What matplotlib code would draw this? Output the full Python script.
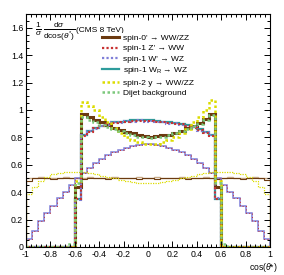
import numpy as np
import matplotlib
matplotlib.use("Agg")
import matplotlib.pyplot as plt
from matplotlib.lines import Line2D
from matplotlib.ticker import MultipleLocator, FuncFormatter

plt.rcParams['font.family'] = ['Liberation Sans', 'DejaVu Sans']
plt.rcParams['mathtext.fontset'] = 'custom'
plt.rcParams['mathtext.rm'] = 'Liberation Sans'
plt.rcParams['mathtext.it'] = 'Liberation Sans:italic'

# ---- data (40 bins over cos(theta*) in [-1, 1]) ----
bin_lo, bin_hi, n_bins = -1.0, 1.0, 40

spin0_cut = [0, 0, 0, 0, 0, 0, 0, 0, 0.44, 0.97,
             0.95, 0.93, 0.91, 0.89, 0.87, 0.855, 0.84, 0.83, 0.82, 0.81,
             0.80, 0.81, 0.815, 0.82, 0.83, 0.845, 0.865, 0.885, 0.905, 0.935,
             0.97, 0.44, 0, 0, 0, 0, 0, 0, 0, 0]
zprime_cut = [0, 0, 0, 0, 0, 0, 0, 0, 0.35, 0.81,
              0.84, 0.865, 0.88, 0.895, 0.905, 0.91, 0.915, 0.92, 0.92, 0.92,
              0.92, 0.915, 0.91, 0.905, 0.90, 0.895, 0.885, 0.87, 0.855, 0.835,
              0.81, 0.35, 0, 0, 0, 0, 0, 0, 0, 0]
wprime_cut = [0, 0, 0, 0, 0, 0, 0, 0, 0.34, 0.815,
              0.845, 0.86, 0.885, 0.89, 0.91, 0.905, 0.92, 0.915, 0.925, 0.915,
              0.92, 0.91, 0.915, 0.90, 0.905, 0.89, 0.88, 0.875, 0.85, 0.84,
              0.815, 0.36, 0, 0, 0, 0, 0, 0, 0, 0]
wr_cut = [0, 0, 0, 0, 0, 0, 0, 0, 0.35, 0.82,
          0.845, 0.87, 0.885, 0.90, 0.91, 0.915, 0.92, 0.925, 0.925, 0.925,
          0.925, 0.92, 0.915, 0.91, 0.905, 0.90, 0.89, 0.875, 0.86, 0.84,
          0.815, 0.35, 0, 0, 0, 0, 0, 0, 0, 0]
spin2_cut = [0, 0, 0, 0, 0, 0, 0, 0, 0.48, 1.06,
             1.03, 1.00, 0.95, 0.91, 0.87, 0.83, 0.80, 0.78, 0.765, 0.755,
             0.75, 0.755, 0.765, 0.78, 0.80, 0.83, 0.86, 0.91, 0.95, 1.00,
             1.07, 0.48, 0, 0, 0, 0, 0, 0, 0, 0]
dijet_cut = [0, 0, 0, 0, 0, 0, 0, 0.02, 0.47, 0.95,
             0.93, 0.91, 0.89, 0.875, 0.86, 0.845, 0.83, 0.815, 0.805, 0.80,
             0.795, 0.80, 0.805, 0.815, 0.83, 0.845, 0.86, 0.88, 0.90, 0.93,
             0.96, 0.47, 0.02, 0, 0, 0, 0, 0, 0, 0]

spin0_nocut = [0.485, 0.50, 0.505, 0.50, 0.495, 0.50, 0.505, 0.50, 0.50, 0.495,
               0.50, 0.505, 0.50, 0.495, 0.50, 0.50, 0.505, 0.50, 0.495, 0.50,
               0.50, 0.495, 0.50, 0.505, 0.50, 0.50, 0.495, 0.50, 0.505, 0.50,
               0.50, 0.495, 0.50, 0.505, 0.50, 0.495, 0.50, 0.505, 0.50, 0.49]
tan_nocut = [0.50, 0.505, 0.51, 0.505, 0.50, 0.505, 0.51, 0.505, 0.50, 0.505,
             0.51, 0.505, 0.50, 0.505, 0.51, 0.505, 0.50, 0.505, 0.51, 0.505,
             0.505, 0.51, 0.505, 0.50, 0.505, 0.51, 0.505, 0.50, 0.505, 0.51,
             0.505, 0.50, 0.505, 0.51, 0.505, 0.50, 0.505, 0.51, 0.505, 0.50]
spin1_nocut = [0.055, 0.12, 0.19, 0.245, 0.30, 0.355, 0.40, 0.45, 0.50, 0.54,
               0.58, 0.615, 0.645, 0.67, 0.69, 0.71, 0.725, 0.735, 0.745, 0.75,
               0.75, 0.745, 0.735, 0.725, 0.71, 0.69, 0.67, 0.645, 0.615, 0.58,
               0.54, 0.50, 0.45, 0.40, 0.355, 0.30, 0.245, 0.19, 0.12, 0.055]
spin2_nocut = [0.39, 0.44, 0.48, 0.51, 0.53, 0.54, 0.55, 0.55, 0.55, 0.545,
               0.54, 0.53, 0.52, 0.51, 0.50, 0.49, 0.48, 0.475, 0.47, 0.465,
               0.465, 0.47, 0.475, 0.48, 0.49, 0.50, 0.51, 0.52, 0.53, 0.54,
               0.545, 0.55, 0.55, 0.55, 0.54, 0.53, 0.51, 0.48, 0.44, 0.39]

labels = ["spin-0' \u2192 WW/ZZ", "spin-1 Z' \u2192 WW", "spin-1 W' \u2192 WZ",
          "spin-1 W$_{\\mathrm{R}}$ \u2192 WZ", "spin-2 y \u2192 WW/ZZ", "Dijet background"]

edges = np.linspace(bin_lo, bin_hi, n_bins + 1)

C_BROWN = '#6B3A10'
C_RED = '#C83232'
C_BLUE = '#7F7FD8'
C_TEAL = '#2E9C9C'
C_YEL = '#DCDC00'
C_GREEN = '#7CC87C'
C_TAN = '#C8AA88'

DOT = (0, (1.0, 1.0))
DOT2 = (1, (1.0, 1.0))

fig = plt.figure(figsize=(2.84, 2.75), dpi=100)
ax = fig.add_axes([26/284, 1-247/275, 244/284, 233/275])

# thin (no cut) distributions
ax.stairs(tan_nocut, edges, color=C_TAN, lw=1.0)
ax.stairs(spin0_nocut, edges, color=C_BROWN, lw=0.8)
ax.stairs(spin1_nocut, edges, color=C_BLUE, lw=1.1)
ax.stairs(spin1_nocut, edges, color=C_RED, lw=0.7, ls=(0, (1.0, 2.5)))
ax.stairs(spin2_nocut, edges, color=C_YEL, lw=0.9, ls=DOT)

# thick (with cut) distributions
ax.stairs(wr_cut, edges, color=C_TEAL, lw=1.6)
ax.stairs(spin0_cut, edges, color=C_BROWN, lw=2.2)
ax.stairs(wprime_cut, edges, color=C_BLUE, lw=1.5, ls=DOT)
ax.stairs(zprime_cut, edges, color=C_RED, lw=1.5, ls=DOT2)
ax.stairs(spin2_cut, edges, color=C_YEL, lw=1.8, ls=DOT)
ax.stairs(dijet_cut, edges, color=C_GREEN, lw=1.8, ls=DOT)

ax.set_xlim(-1, 1)
ax.set_ylim(0, 1.7)


def fmt(v, pos):
    v = round(v, 2)
    if v == 0:
        return '0'
    return f'{v:g}'


ax.xaxis.set_major_locator(MultipleLocator(0.2))
ax.xaxis.set_minor_locator(MultipleLocator(0.04))
ax.yaxis.set_major_locator(MultipleLocator(0.2))
ax.yaxis.set_minor_locator(MultipleLocator(0.05))
ax.xaxis.set_major_formatter(FuncFormatter(fmt))
ax.yaxis.set_major_formatter(FuncFormatter(fmt))
ax.tick_params(which='both', direction='in', top=True, right=True,
               labelsize=6.3, width=0.7, pad=2)
ax.tick_params(which='major', length=4.5)
ax.tick_params(which='minor', length=2.5)
for s in ax.spines.values():
    s.set_linewidth(0.8)

ax.text(1.03, -0.06, r'cos($\theta$*)', transform=ax.transAxes,
        ha='right', va='top', fontsize=6.2)
ax.text(0.035, 0.925,
        r'$\frac{1}{\sigma}\,\frac{\mathrm{d}\sigma}{\mathrm{dcos}(\theta^{*})}$',
        transform=ax.transAxes, ha='left', va='center', fontsize=8.5)
ax.text(0.205, 0.928, '(CMS 8 TeV)',
        transform=ax.transAxes, ha='left', va='center', fontsize=6.0)

handles = [
    Line2D([], [], color=C_BROWN, lw=2.2),
    Line2D([], [], color=C_RED, lw=1.6, ls=DOT),
    Line2D([], [], color=C_BLUE, lw=1.6, ls=DOT),
    Line2D([], [], color=C_TEAL, lw=1.6),
    Line2D([], [], color=C_YEL, lw=1.8, ls=DOT),
    Line2D([], [], color=C_GREEN, lw=1.8, ls=DOT),
]
leg = ax.legend(handles, labels, loc='upper left', bbox_to_anchor=(0.305, 0.92),
                fontsize=6.0, frameon=True, fancybox=False, edgecolor='none',
                facecolor='white', framealpha=1.0, handlelength=2.0,
                handletextpad=0.45, labelspacing=0.3, borderpad=0.2,
                borderaxespad=0.0)

fig.savefig('out.png', dpi=100)
